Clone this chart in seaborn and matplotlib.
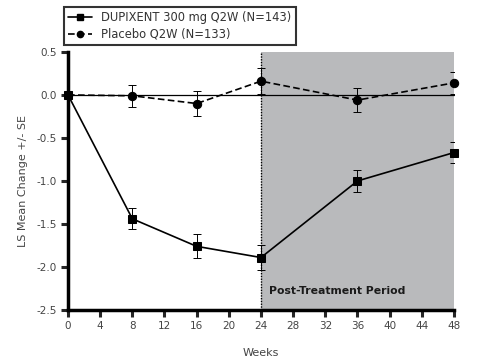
import matplotlib
matplotlib.use("Agg")
import matplotlib.pyplot as plt
from matplotlib.lines import Line2D
import pandas as pd
import seaborn as sns

weeks = [0, 8, 16, 24, 36, 48]
dupixent = [0.0, -1.44, -1.76, -1.89, -1.00, -0.67]
dupixent_se = [0.0, 0.12, 0.14, 0.14, 0.13, 0.12]
placebo = [0.0, -0.01, -0.10, 0.16, -0.06, 0.14]
placebo_se = [0.0, 0.13, 0.14, 0.15, 0.14, 0.13]
labels = ["DUPIXENT 300 mg Q2W (N=143)", "Placebo Q2W (N=133)"]

df = pd.DataFrame({
    "week": weeks * 2,
    "value": dupixent + placebo,
    "group": [labels[0]] * len(weeks) + [labels[1]] * len(weeks),
})

sns.set_style("ticks")
plt.rcParams["font.family"] = ["DejaVu Sans"]

fig = plt.figure(figsize=(4.8, 3.63), dpi=100)
ax = fig.add_axes([0.1417, 0.146, 0.804, 0.711])

# shaded post-treatment area
ax.axvspan(24, 48, color="#b9babc", lw=0, zorder=0)
ax.axvline(24, color="black", ls=(0, (1, 1)), lw=1.0, zorder=1)
ax.axhline(0, color="black", lw=0.9, zorder=1)

sns.lineplot(data=df, x="week", y="value", hue="group", style="group",
             palette=["black", "black"], markers=["s", "o"],
             dashes=[(None, None), (4, 2)], markersize=6, lw=1.2,
             markeredgecolor="black", ax=ax, zorder=4, legend=False)
for ln in ax.lines:
    ln.set_clip_on(False)

ax.errorbar(weeks, dupixent, yerr=dupixent_se, fmt="none", ecolor="black",
            elinewidth=0.7, capsize=3, capthick=0.7, zorder=2)
ax.errorbar(weeks, placebo, yerr=placebo_se, fmt="none", ecolor="black",
            elinewidth=0.7, capsize=3, capthick=0.7, zorder=2)

ax.text(25, -2.28, "Post-Treatment Period", fontsize=7.8, fontweight="bold",
        color="#1a1a1a", va="center", ha="left")

ax.set_xlim(0, 48)
ax.set_ylim(-2.5, 0.5)
ax.set_xticks(range(0, 49, 4))
ax.set_yticks([-2.5, -2.0, -1.5, -1.0, -0.5, 0.0, 0.5])
ax.set_yticklabels(["-2.5", "-2.0", "-1.5", "-1.0", "-0.5", "0.0", "0.5"])
ax.tick_params(axis="both", width=2.2, length=5, labelsize=7.5, labelcolor="#444444",
               pad=3)
ax.set_xlabel("Weeks", fontsize=8, color="#444444", labelpad=12)
ax.set_ylabel("LS Mean Change +/- SE", fontsize=8, color="#444444", labelpad=6)
ax.margins(x=0)

for side in ["top", "right"]:
    ax.spines[side].set_visible(False)
for side in ["left", "bottom"]:
    ax.spines[side].set_linewidth(2.5)
    ax.spines[side].set_color("black")

handles = [
    Line2D([], [], color="black", lw=1.2, marker="s", markersize=4.5),
    Line2D([], [], color="black", lw=1.2, ls=(0, (4, 2)), marker="o", markersize=4.5),
]
leg = ax.legend(handles, labels, loc="upper left", bbox_to_anchor=(0.133, 0.981),
                bbox_transform=fig.transFigure, fontsize=8.3, frameon=True,
                fancybox=False, borderpad=0.35, labelspacing=0.35,
                handlelength=2.1, handletextpad=0.8, borderaxespad=0)
leg.get_frame().set_edgecolor("black")
leg.get_frame().set_linewidth(1.5)
for t in leg.get_texts():
    t.set_color("#333333")

fig.savefig("out.png", dpi=100)
